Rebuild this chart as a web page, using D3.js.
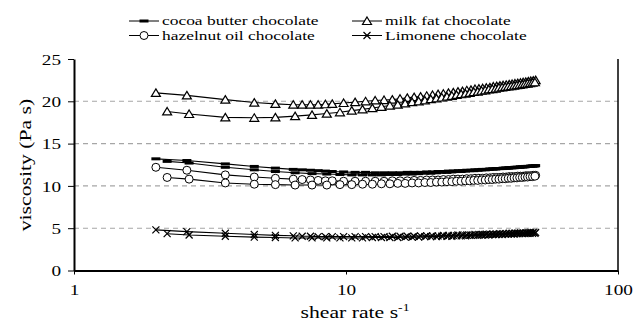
<!DOCTYPE html>
<html>
<head>
<meta charset="utf-8">
<style>
  body { margin: 0; background: #fff; }
  svg text { font-family: "Liberation Serif", "Times New Roman", serif; fill: #000; }
  .grid line { stroke: #a6a6a6; stroke-width: 1.1; stroke-dasharray: 5,4; }
  .trace { fill: none; stroke: #000; stroke-width: 1.1; }
</style>
</head>
<body>
<svg id="chart" width="635" height="322"></svg>
<script src="https://cdn.jsdelivr.net/npm/d3@7/dist/d3.min.js"></script>
<script>
"use strict";

// shear rates (s^-1) for the two sweeps
var shearA = [2.0, 2.6, 3.6, 4.6, 5.5, 6.4, 6.9, 7.4, 7.9, 8.4, 8.9, 9.8,
  10.8, 11.8, 12.8, 13.8, 14.8, 15.8, 16.8, 17.8, 18.8, 19.8,
  20.8, 21.8, 22.8, 23.8, 24.8, 25.8, 26.8, 27.8, 28.8, 29.8,
  30.8, 31.8, 32.8, 33.8, 34.8, 35.8, 36.8, 37.8, 38.8, 39.8,
  40.8, 41.8, 42.8, 43.8, 44.8, 45.8, 46.8, 47.8, 48.8, 49.8];
var shearB = [2.2, 2.65, 3.6, 4.6, 5.5, 6.5, 7.5, 8.5, 9.5,
  10.5, 11.5, 12.5, 13.5, 14.5, 15.5, 16.5, 17.5, 18.5, 19.5,
  20.5, 21.5, 22.5, 23.5, 24.5, 25.5, 26.5, 27.5, 28.5, 29.5,
  30.5, 31.5, 32.5, 33.5, 34.5, 35.5, 36.5, 37.5, 38.5, 39.5,
  40.5, 41.5, 42.5, 43.5, 44.5, 45.5, 46.5, 47.5, 48.5, 49.5];

// viscosity (Pa s)
var cocoaA = [13.2, 13.0, 12.6, 12.3, 12.1, 11.95, 11.9, 11.85, 11.8, 11.75, 11.7, 11.65,
  11.6, 11.6, 11.55, 11.55, 11.55, 11.55, 11.6, 11.6, 11.6, 11.65,
  11.65, 11.7, 11.7, 11.75, 11.75, 11.8, 11.8, 11.85, 11.85, 11.9,
  11.9, 11.95, 11.95, 12.0, 12.0, 12.05, 12.05, 12.1, 12.1, 12.15,
  12.15, 12.2, 12.2, 12.25, 12.25, 12.3, 12.3, 12.35, 12.35, 12.4];
var cocoaB = [12.9, 12.7, 12.2, 11.9, 11.7, 11.55, 11.45, 11.4, 11.35,
  11.3, 11.3, 11.3, 11.3, 11.35, 11.35, 11.4, 11.4, 11.45, 11.5,
  11.5, 11.55, 11.6, 11.6, 11.65, 11.7, 11.7, 11.75, 11.8, 11.8,
  11.85, 11.9, 11.9, 11.95, 12.0, 12.0, 12.05, 12.05, 12.1, 12.1,
  12.15, 12.15, 12.2, 12.2, 12.25, 12.25, 12.3, 12.3, 12.35, 12.35];
var milkA = [21.0, 20.7, 20.2, 19.85, 19.7, 19.6, 19.6, 19.6, 19.6, 19.65, 19.7, 19.8,
  19.9, 20.0, 20.1, 20.15, 20.2, 20.3, 20.4, 20.5, 20.55, 20.65,
  20.75, 20.85, 20.9, 21.0, 21.05, 21.15, 21.2, 21.3, 21.35, 21.45,
  21.5, 21.55, 21.6, 21.65, 21.75, 21.8, 21.85, 21.9, 21.95, 22.0,
  22.05, 22.1, 22.15, 22.2, 22.25, 22.3, 22.35, 22.4, 22.45, 22.5];
var milkB = [18.8, 18.5, 18.1, 18.05, 18.1, 18.25, 18.4, 18.55, 18.7,
  18.9, 19.05, 19.2, 19.35, 19.5, 19.6, 19.75, 19.9, 20.0, 20.1,
  20.25, 20.35, 20.45, 20.55, 20.65, 20.75, 20.85, 20.9, 21.0, 21.1,
  21.15, 21.25, 21.3, 21.4, 21.45, 21.5, 21.6, 21.65, 21.7, 21.75,
  21.8, 21.85, 21.9, 21.95, 22.0, 22.05, 22.1, 22.15, 22.2, 22.25];
var hazelA = [12.2, 11.85, 11.3, 11.05, 10.9, 10.8, 10.75, 10.7, 10.65, 10.6, 10.6, 10.55,
  10.55, 10.55, 10.55, 10.55, 10.6, 10.6, 10.6, 10.65, 10.65, 10.7,
  10.7, 10.7, 10.75, 10.75, 10.8, 10.8, 10.8, 10.85, 10.85, 10.9,
  10.9, 10.9, 10.95, 10.95, 11.0, 11.0, 11.0, 11.05, 11.05, 11.1,
  11.1, 11.1, 11.15, 11.15, 11.15, 11.2, 11.2, 11.2, 11.25, 11.25];
var hazelB = [11.0, 10.8, 10.35, 10.2, 10.15, 10.1, 10.1, 10.1, 10.15,
  10.15, 10.2, 10.2, 10.25, 10.25, 10.3, 10.3, 10.35, 10.35, 10.4,
  10.4, 10.45, 10.45, 10.5, 10.5, 10.55, 10.55, 10.6, 10.6, 10.65,
  10.65, 10.7, 10.7, 10.75, 10.75, 10.8, 10.8, 10.85, 10.85, 10.9,
  10.9, 10.95, 10.95, 11.0, 11.0, 11.05, 11.05, 11.1, 11.1, 11.15];
var limoA = [4.8, 4.6, 4.4, 4.25, 4.15, 4.1, 4.05, 4.05, 4.0, 4.0, 4.0, 4.0,
  4.0, 4.0, 4.0, 4.0, 4.05, 4.05, 4.05, 4.05, 4.1, 4.1,
  4.1, 4.1, 4.15, 4.15, 4.15, 4.2, 4.2, 4.2, 4.2, 4.25,
  4.25, 4.25, 4.3, 4.3, 4.3, 4.3, 4.35, 4.35, 4.35, 4.4,
  4.4, 4.4, 4.4, 4.45, 4.45, 4.45, 4.45, 4.5, 4.5, 4.5];
var limoB = [4.35, 4.2, 4.05, 3.95, 3.9, 3.85, 3.85, 3.85, 3.85,
  3.85, 3.85, 3.9, 3.9, 3.9, 3.9, 3.95, 3.95, 3.95, 4.0,
  4.0, 4.0, 4.05, 4.05, 4.05, 4.1, 4.1, 4.1, 4.15, 4.15,
  4.15, 4.2, 4.2, 4.2, 4.25, 4.25, 4.25, 4.25, 4.3, 4.3,
  4.3, 4.3, 4.35, 4.35, 4.35, 4.35, 4.4, 4.4, 4.4, 4.4];

var seriesNames = ["cocoa butter chocolate", "milk fat chocolate",
  "hazelnut oil chocolate", "Limonene chocolate"];
var xTicks = [1, 10, 100];
var yTicks = [0, 5, 10, 15, 20, 25];
var gridTicks = [5, 10, 15, 20];

var series = [
  {name: seriesNames[1], marker: "triangle", a: milkA, b: milkB},
  {name: seriesNames[0], marker: "dash", a: cocoaA, b: cocoaB},
  {name: seriesNames[2], marker: "circle", a: hazelA, b: hazelB},
  {name: seriesNames[3], marker: "cross", a: limoA, b: limoB}
];

var svg = d3.select("#chart");
var stretch = 1.24; // the original lettering is stretched along the writing direction

var x = d3.scaleLog().domain([1, 100]).range([74, 618]);
var y = d3.scaleLinear().domain([0, 25]).range([270.5, 59]);

// grid
svg.append("g").attr("class", "grid")
  .selectAll("line").data(gridTicks).enter().append("line")
  .attr("x1", x(1)).attr("x2", x(100))
  .attr("y1", function(d) { return y(d); })
  .attr("y2", function(d) { return y(d); });

function drawMarker(sel, kind) {
  if (kind === "dash") {
    sel.append("rect").attr("x", -4.5).attr("y", -1.5).attr("width", 9).attr("height", 3)
      .attr("fill", "#000");
  } else if (kind === "triangle") {
    sel.append("path").attr("d", "M0,-4L4.5,3.5L-4.5,3.5Z")
      .attr("fill", "#fff").attr("stroke", "#000").attr("stroke-width", 1.2);
  } else if (kind === "circle") {
    sel.append("circle").attr("r", 4)
      .attr("fill", "#fff").attr("stroke", "#000").attr("stroke-width", 1);
  } else {
    sel.append("path").attr("d", "M-3.5,-3.5L3.5,3.5M-3.5,3.5L3.5,-3.5")
      .attr("fill", "none").attr("stroke", "#000").attr("stroke-width", 1.2);
  }
}

var line = d3.line()
  .x(function(d) { return x(d[0]); })
  .y(function(d) { return y(d[1]); });

series.forEach(function(s) {
  var branches = [d3.zip(shearA, s.a), d3.zip(shearB, s.b)];
  var g = svg.append("g");
  branches.forEach(function(pts) {
    g.append("path").attr("class", "trace").attr("d", line(pts));
  });
  branches.forEach(function(pts) {
    var m = g.selectAll(null).data(pts).enter().append("g")
      .attr("transform", function(d) { return "translate(" + x(d[0]) + "," + y(d[1]) + ")"; });
    drawMarker(m, s.marker);
  });
});

// axes
var yAxis = svg.append("g")
  .attr("transform", "translate(" + x(1) + ",0)")
  .call(d3.axisLeft(y).tickValues(yTicks).tickSize(6).tickSizeOuter(0));
yAxis.select(".domain").attr("stroke-width", 2);
yAxis.selectAll("text")
  .attr("x", null).attr("dy", "0.34em")
  .attr("transform", "translate(-13,0) scale(" + stretch + ",1)")
  .style("font-size", "15.5px");

var xAxis = svg.append("g")
  .attr("transform", "translate(0," + y(0) + ")")
  .call(d3.axisBottom(x).tickValues(xTicks).tickFormat(d3.format("d")).tickSize(4).tickSizeOuter(0));
xAxis.select(".domain").attr("stroke-width", 2);
xAxis.selectAll("text")
  .attr("y", null).attr("dy", null)
  .attr("transform", "translate(0,24.5) scale(" + stretch + ",1)")
  .style("font-size", "15.5px");

svg.append("line")
  .attr("x1", x(100)).attr("x2", x(100))
  .attr("y1", y(25)).attr("y2", y(0))
  .attr("stroke", "#000").attr("stroke-width", 1.5);

// axis titles
var xt = svg.append("text")
  .attr("transform", "translate(355,318) scale(" + stretch + ",1)")
  .attr("text-anchor", "middle").style("font-size", "17.5px");
xt.append("tspan").text("shear rate s");
xt.append("tspan").attr("dy", -7).style("font-size", "11px").text("-1");

svg.append("text")
  .attr("transform", "translate(31,165) scale(1," + stretch + ") rotate(-90)")
  .attr("text-anchor", "middle").style("font-size", "17.5px")
  .text("viscosity (Pa s)");

// legend
var legendItems = [
  {name: seriesNames[0], marker: "dash", lx: 129, ly: 21},
  {name: seriesNames[1], marker: "triangle", lx: 352, ly: 21},
  {name: seriesNames[2], marker: "circle", lx: 129, ly: 35.5},
  {name: seriesNames[3], marker: "cross", lx: 352, ly: 35.5}
];
var leg = svg.append("g").selectAll("g").data(legendItems).enter().append("g")
  .attr("transform", function(d) { return "translate(" + d.lx + "," + d.ly + ")"; });
leg.append("line").attr("x1", 0).attr("x2", 30).attr("stroke", "#000").attr("stroke-width", 1);
leg.each(function(d) {
  drawMarker(d3.select(this).append("g").attr("transform", "translate(15,0)"), d.marker);
});
leg.append("text")
  .attr("transform", "translate(33,4.3) scale(1.34,1)")
  .style("font-size", "13px")
  .text(function(d) { return d.name; });
</script>
</body>
</html>
